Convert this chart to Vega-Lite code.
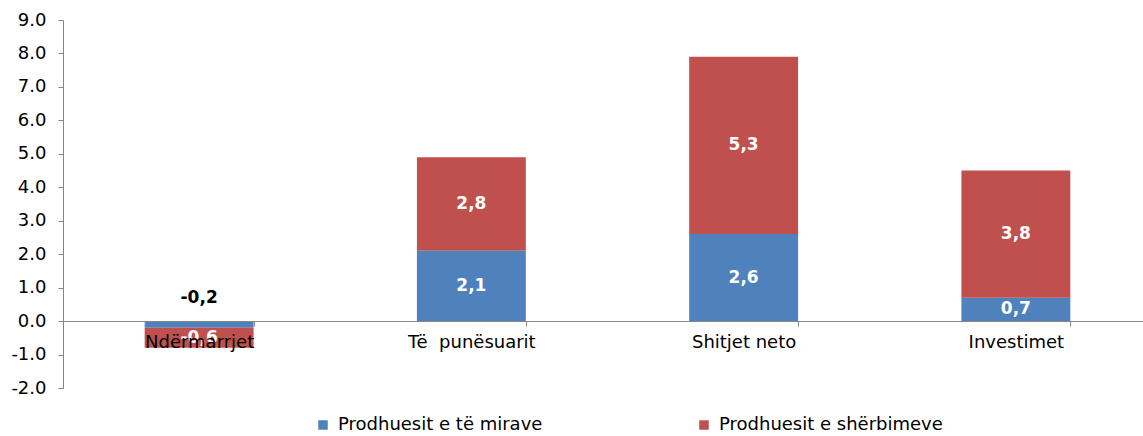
{
  "$schema": "https://vega.github.io/schema/vega-lite/v6.json",
  "width": 1089,
  "height": 368,
  "autosize": {"type": "none"},
  "padding": {"left": 63, "top": 20, "right": 0, "bottom": 48},
  "background": "white",
  "config": {"view": {"stroke": null}, "font": "DejaVu Sans"},
  "data": {
    "values": [
      {"cat": "Ndërmarrjet", "series": "Prodhuesit e të mirave", "value": -0.2},
      {"cat": "Ndërmarrjet", "series": "Prodhuesit e shërbimeve", "value": -0.6},
      {"cat": "Të\u00a0 punësuarit", "series": "Prodhuesit e të mirave", "value": 2.1},
      {"cat": "Të\u00a0 punësuarit", "series": "Prodhuesit e shërbimeve", "value": 2.8},
      {"cat": "Shitjet neto", "series": "Prodhuesit e të mirave", "value": 2.6},
      {"cat": "Shitjet neto", "series": "Prodhuesit e shërbimeve", "value": 5.3},
      {"cat": "Investimet", "series": "Prodhuesit e të mirave", "value": 0.7},
      {"cat": "Investimet", "series": "Prodhuesit e shërbimeve", "value": 3.8}
    ]
  },
  "transform": [
    {"calculate": "datum.series === 'Prodhuesit e të mirave' ? 0 : 1", "as": "ord"},
    {"stack": "value", "groupby": ["cat"], "sort": [{"field": "ord"}], "as": ["v0", "v1"]},
    {"calculate": "(datum.v0 + datum.v1) / 2", "as": "mid"},
    {"calculate": "replace(replace(format(datum.value, '.1f'), '.', ','), '\u2212', '-')", "as": "lbl"}
  ],
  "encoding": {
    "x": {
      "field": "cat",
      "type": "nominal",
      "sort": null,
      "scale": {"paddingInner": 0.6, "paddingOuter": 0.3},
      "axis": {
        "title": null,
        "orient": "bottom",
        "offset": -67,
        "zindex": 1,
        "labelAngle": 0,
        "labelFontSize": 18,
        "labelColor": "black",
        "labelPadding": 7,
        "labelOverlap": false,
        "domainColor": "#868686",
        "tickColor": "#868686",
        "tickSize": 5,
        "tickBand": "extent"
      }
    }
  },
  "layer": [
    {
      "mark": {"type": "bar"},
      "encoding": {
        "y": {
          "field": "v1",
          "type": "quantitative",
          "scale": {"domain": [-2, 9], "nice": false, "zero": false},
          "axis": {
            "title": null,
            "values": [-2, -1, 0, 1, 2, 3, 4, 5, 6, 7, 8, 9],
            "labelExpr": "replace(format(datum.value, '.1f'), '\u2212', '-')",
            "labelFontSize": 18,
            "labelColor": "black",
            "labelPadding": 12,
            "labelOverlap": false,
            "labelBound": false,
            "domainColor": "#868686",
            "tickColor": "#868686",
            "tickSize": 5,
            "grid": false
          }
        },
        "y2": {"field": "v0"},
        "color": {
          "field": "series",
          "type": "nominal",
          "scale": {
            "domain": ["Prodhuesit e të mirave", "Prodhuesit e shërbimeve"],
            "range": ["#4F81BD", "#C0504D"]
          },
          "legend": {
            "title": null,
            "orient": "none",
            "direction": "horizontal",
            "legendX": 251,
            "legendY": 396,
            "symbolType": "square",
            "symbolSize": 90,
            "symbolStrokeWidth": 0,
            "symbolOpacity": 1,
            "labelFontSize": 18,
            "labelColor": "black",
            "labelOffset": 6,
            "columnPadding": 152,
            "labelLimit": 400
          }
        }
      }
    },
    {
      "transform": [{"filter": "!(datum.cat === 'Ndërmarrjet' && datum.ord === 0)"}],
      "mark": {"type": "text", "color": "white", "fontWeight": "bold", "fontSize": 17, "baseline": "middle"},
      "encoding": {
        "y": {
          "field": "mid",
          "type": "quantitative",
          "axis": {
            "title": null,
            "values": [-2, -1, 0, 1, 2, 3, 4, 5, 6, 7, 8, 9],
            "labelExpr": "replace(format(datum.value, '.1f'), '\u2212', '-')",
            "labelFontSize": 18,
            "labelColor": "black",
            "labelPadding": 12,
            "labelOverlap": false,
            "labelBound": false,
            "domainColor": "#868686",
            "tickColor": "#868686",
            "tickSize": 5,
            "grid": false
          }
        },
        "text": {"field": "lbl"}
      }
    },
    {
      "transform": [{"filter": "datum.cat === 'Ndërmarrjet' && datum.ord === 0"}],
      "mark": {"type": "text", "color": "black", "fontWeight": "bold", "fontSize": 17, "baseline": "middle", "dy": -23},
      "encoding": {
        "y": {
          "datum": 0,
          "type": "quantitative",
          "axis": {
            "title": null,
            "values": [-2, -1, 0, 1, 2, 3, 4, 5, 6, 7, 8, 9],
            "labelExpr": "replace(format(datum.value, '.1f'), '\u2212', '-')",
            "labelFontSize": 18,
            "labelColor": "black",
            "labelPadding": 12,
            "labelOverlap": false,
            "labelBound": false,
            "domainColor": "#868686",
            "tickColor": "#868686",
            "tickSize": 5,
            "grid": false
          }
        },
        "text": {"field": "lbl"}
      }
    }
  ]
}
